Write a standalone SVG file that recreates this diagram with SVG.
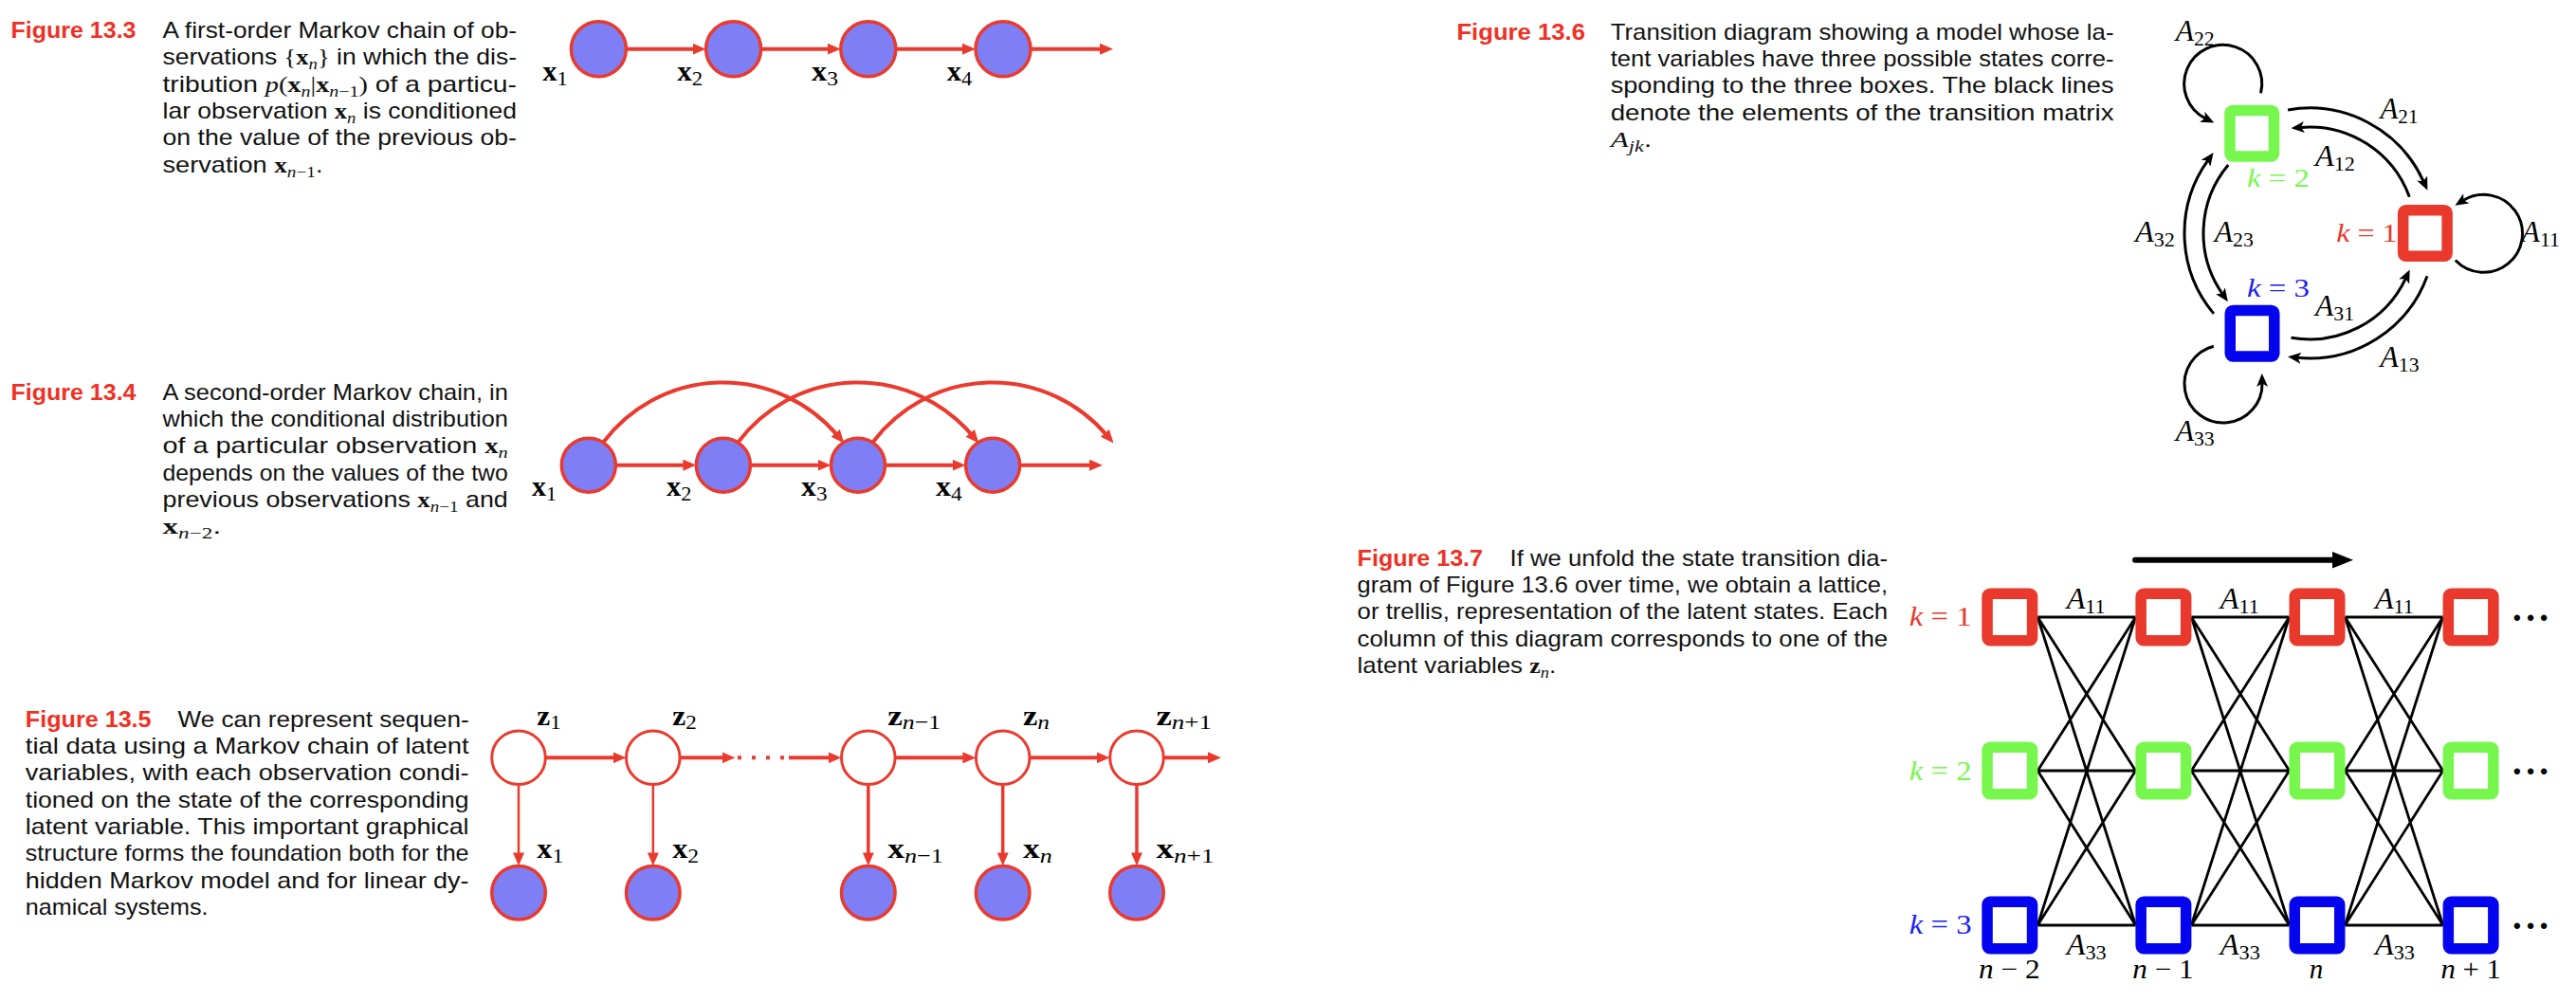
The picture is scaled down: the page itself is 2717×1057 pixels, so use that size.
<svg xmlns="http://www.w3.org/2000/svg" width="2717" height="1057" viewBox="0 0 2717 1057">
<defs>
<style>
.t{font-family:"Liberation Sans",Arial,sans-serif;font-size:24px;fill:#111}
.f{font-family:"Liberation Sans",Arial,sans-serif;font-size:24px;font-weight:bold;fill:#EE3124}
.mb{font-family:"Liberation Serif","Times New Roman",serif;font-weight:bold}
.mi{font-family:"Liberation Serif","Times New Roman",serif;font-style:italic}
.mr{font-family:"Liberation Serif","Times New Roman",serif}
.s{font-size:17px}
.nl{font-family:"Liberation Serif","Times New Roman",serif;font-size:30px;fill:#000}
.al{font-family:"Liberation Serif","Times New Roman",serif;font-size:32px;fill:#000}
.ns{font-size:22px;font-weight:normal}
.obs{fill:#7F7FF5;stroke:#EA3A2E;stroke-width:3.5}
.lat{fill:#fff;stroke:#EA3A2E;stroke-width:3}
.re{fill:none;stroke:#EA3A2E;stroke-width:4;marker-end:url(#ra)}
.rt{fill:none;stroke:#EA3A2E;stroke-width:2.5;marker-end:url(#ra)}
.ke{fill:none;stroke:#000;stroke-width:3;marker-end:url(#ka)}
.tl{stroke:#000;stroke-width:2.8;fill:none}
.bx{fill:#fff;stroke-width:11.5}
.cg{stroke:#77F74D}.cr{stroke:#E8392C}.cb{stroke:#0404EE}
.dots{font-family:"Liberation Sans",Arial,sans-serif;font-size:22px;font-weight:bold;fill:#000}
</style>
<marker id="ra" viewBox="0 0 14 12" refX="2" refY="6" markerWidth="14" markerHeight="12" markerUnits="userSpaceOnUse" orient="auto"><path d="M0,0 L14,6 L0,12 Z" fill="#EA3A2E"/></marker>
<marker id="ka" viewBox="0 0 14 12" refX="4" refY="6" markerWidth="14" markerHeight="12" markerUnits="userSpaceOnUse" orient="auto"><path d="M0,0 L14,6 L0,12 L3.5,6 Z" fill="#000"/></marker>
</defs>
<rect width="2717" height="1057" fill="#fff"/>

<!-- ===== Captions ===== -->
<g id="cap13_3">
<text class="f" x="11.5" y="40" textLength="132" lengthAdjust="spacingAndGlyphs">Figure 13.3</text>
<text class="t" x="171.5" y="40" textLength="373.5" lengthAdjust="spacingAndGlyphs">A first-order Markov chain of ob-</text>
<text class="t" x="171.5" y="68.3" textLength="373.5" lengthAdjust="spacingAndGlyphs">servations <tspan class="mr">{</tspan><tspan class="mb">x</tspan><tspan class="mi s" dy="5">n</tspan><tspan class="mr" dy="-5">}</tspan> in which the dis-</text>
<text class="t" x="171.5" y="96.7" textLength="373.5" lengthAdjust="spacingAndGlyphs">tribution <tspan class="mi">p</tspan><tspan class="mr">(</tspan><tspan class="mb">x</tspan><tspan class="mi s" dy="5">n</tspan><tspan class="mr" dy="-5">|</tspan><tspan class="mb">x</tspan><tspan class="mi s" dy="5">n</tspan><tspan class="mr s">−1</tspan><tspan class="mr" dy="-5">)</tspan> of a particu-</text>
<text class="t" x="171.5" y="125" textLength="373.5" lengthAdjust="spacingAndGlyphs">lar observation <tspan class="mb">x</tspan><tspan class="mi s" dy="5">n</tspan><tspan dy="-5"> is conditioned</tspan></text>
<text class="t" x="171.5" y="153.3" textLength="373.5" lengthAdjust="spacingAndGlyphs">on the value of the previous ob-</text>
<text class="t" x="171.5" y="181.7" textLength="169" lengthAdjust="spacingAndGlyphs">servation <tspan class="mb">x</tspan><tspan class="mi s" dy="5">n</tspan><tspan class="mr s">−1</tspan><tspan dy="-5">.</tspan></text>
</g>

<g id="cap13_4">
<text class="f" x="11.5" y="421.7" textLength="132" lengthAdjust="spacingAndGlyphs">Figure 13.4</text>
<text class="t" x="171.5" y="421.7" textLength="364.3" lengthAdjust="spacingAndGlyphs">A second-order Markov chain, in</text>
<text class="t" x="171.5" y="450" textLength="364.3" lengthAdjust="spacingAndGlyphs">which the conditional distribution</text>
<text class="t" x="171.5" y="478.3" textLength="364.3" lengthAdjust="spacingAndGlyphs">of a particular observation <tspan class="mb">x</tspan><tspan class="mi s" dy="5">n</tspan></text>
<text class="t" x="171.5" y="506.7" textLength="364.3" lengthAdjust="spacingAndGlyphs">depends on the values of the two</text>
<text class="t" x="171.5" y="535" textLength="364.3" lengthAdjust="spacingAndGlyphs">previous observations <tspan class="mb">x</tspan><tspan class="mi s" dy="5">n</tspan><tspan class="mr s">−1</tspan><tspan dy="-5"> and</tspan></text>
<text class="t" x="171.5" y="563.3" textLength="62" lengthAdjust="spacingAndGlyphs"><tspan class="mb">x</tspan><tspan class="mi s" dy="5">n</tspan><tspan class="mr s">−2</tspan><tspan dy="-5">.</tspan></text>
</g>

<g id="cap13_5">
<text class="f" x="26.8" y="766.7" textLength="132.8" lengthAdjust="spacingAndGlyphs">Figure 13.5</text>
<text class="t" x="187.5" y="766.7" textLength="307.1" lengthAdjust="spacingAndGlyphs">We can represent sequen-</text>
<text class="t" x="26.8" y="795" textLength="467.8" lengthAdjust="spacingAndGlyphs">tial data using a Markov chain of latent</text>
<text class="t" x="26.8" y="823.3" textLength="467.8" lengthAdjust="spacingAndGlyphs">variables, with each observation condi-</text>
<text class="t" x="26.8" y="851.7" textLength="467.8" lengthAdjust="spacingAndGlyphs">tioned on the state of the corresponding</text>
<text class="t" x="26.8" y="880" textLength="467.8" lengthAdjust="spacingAndGlyphs">latent variable.  This important graphical</text>
<text class="t" x="26.8" y="908.3" textLength="467.8" lengthAdjust="spacingAndGlyphs">structure forms the foundation both for the</text>
<text class="t" x="26.8" y="936.7" textLength="467.8" lengthAdjust="spacingAndGlyphs">hidden Markov model and for linear dy-</text>
<text class="t" x="26.8" y="965" textLength="192.8" lengthAdjust="spacingAndGlyphs">namical systems.</text>
</g>

<g id="cap13_6">
<text class="f" x="1536.4" y="41.7" textLength="135.6" lengthAdjust="spacingAndGlyphs">Figure 13.6</text>
<text class="t" x="1698.7" y="41.7" textLength="530.8" lengthAdjust="spacingAndGlyphs">Transition diagram showing a model whose la-</text>
<text class="t" x="1698.7" y="70" textLength="530.8" lengthAdjust="spacingAndGlyphs">tent variables have three possible states corre-</text>
<text class="t" x="1698.7" y="98.3" textLength="530.8" lengthAdjust="spacingAndGlyphs">sponding to the three boxes.  The black lines</text>
<text class="t" x="1698.7" y="126.7" textLength="530.8" lengthAdjust="spacingAndGlyphs">denote the elements of the transition matrix</text>
<text class="t" x="1698.7" y="155" textLength="43.7" lengthAdjust="spacingAndGlyphs"><tspan class="mi">A</tspan><tspan class="mi s" dy="5">jk</tspan><tspan dy="-5">.</tspan></text>
</g>

<g id="cap13_7">
<text class="f" x="1431.6" y="596.7" textLength="132.4" lengthAdjust="spacingAndGlyphs">Figure 13.7</text>
<text class="t" x="1592.6" y="596.7" textLength="398.5" lengthAdjust="spacingAndGlyphs">If we unfold the state transition dia-</text>
<text class="t" x="1431.6" y="625" textLength="559.5" lengthAdjust="spacingAndGlyphs">gram of Figure 13.6 over time, we obtain a lattice,</text>
<text class="t" x="1431.6" y="653.3" textLength="559.5" lengthAdjust="spacingAndGlyphs">or trellis, representation of the latent states. Each</text>
<text class="t" x="1431.6" y="681.7" textLength="559.5" lengthAdjust="spacingAndGlyphs">column of this diagram corresponds to one of the</text>
<text class="t" x="1431.6" y="710" textLength="209.6" lengthAdjust="spacingAndGlyphs">latent variables <tspan class="mb">z</tspan><tspan class="mi s" dy="5">n</tspan><tspan dy="-5">.</tspan></text>
</g>

<!-- ===== Connectors ===== -->
<g id="connectors">
<path class="re" d="M660.4,51.7 H732.6"/>
<path class="re" d="M802.6,51.7 H874.8"/>
<path class="re" d="M944.8,51.7 H1017"/>
<path class="re" d="M1087,51.7 H1162"/>
<path class="re" d="M649.3,490.7 H722.4"/>
<path class="re" d="M791.4,490.7 H864.5"/>
<path class="re" d="M933.5,490.7 H1006.6"/>
<path class="re" d="M1075.6,490.7 H1150.9"/>
<path class="re" d="M636.8,466 A158,158 0 0 1 882.5,458.4"/>
<path class="re" d="M778.9,466 A158,158 0 0 1 1024.6,458.4"/>
<path class="re" d="M921,466 A158,158 0 0 1 1166.7,458.4"/>
<path class="re" d="M575.3,799.3 H648.5"/>
<path class="re" d="M717.1,799.3 H763.5"/>
<path d="M778,799.3 H828" stroke="#EA3A2E" stroke-width="4" stroke-dasharray="4 11" fill="none"/>
<path class="re" d="M832,799.3 H875.5"/>
<path class="re" d="M944.1,799.3 H1017.4"/>
<path class="re" d="M1086,799.3 H1158.7"/>
<path class="re" d="M1227.3,799.3 H1276"/>
<path class="rt" d="M547,827.6 V901.4"/>
<path class="rt" d="M688.8,827.6 V901.4"/>
<path class="re" d="M915.8,827.6 V901.4" style="stroke-width:3.5"/>
<path class="re" d="M1057.7,827.6 V901.4" style="stroke-width:3.5"/>
<path class="re" d="M1199,827.6 V901.4" style="stroke-width:3.5"/>
<path class="ke" d="M2413.08,116 A132,132 0 0 1 2556.27,191.59"/>
<path class="ke" d="M2560.04,291.15 A132,132 0 0 1 2422.98,377.36"/>
<path class="ke" d="M2334.88,330.85 A132,132 0 0 1 2328.78,169"/>
<path class="ke" d="M2541.25,207.69 A112,112 0 0 0 2426.47,134.41"/>
<path class="ke" d="M2416.55,356.3 A112,112 0 0 0 2537.41,293.55"/>
<path class="ke" d="M2350.2,174.01 A112,112 0 0 0 2344.12,310.05"/>
<path class="ke" d="M2384.5,98.25 A41,41 0 1 0 2326.34,125.06"/>
<path class="ke" d="M2589.76,274.52 A41,41 0 1 0 2597.95,211.42"/>
<path class="ke" d="M2334.87,365.27 A41,41 0 1 0 2385.99,403.93"/>
<path class="tl" d="M2149.2,651 L2252.5,651 M2149.2,651 L2252.5,813 M2149.2,651 L2252.5,976 M2149.2,813 L2252.5,651 M2149.2,813 L2252.5,813 M2149.2,813 L2252.5,976 M2149.2,976 L2252.5,651 M2149.2,976 L2252.5,813 M2149.2,976 L2252.5,976"/>
<path class="tl" d="M2311.3,651 L2414.6,651 M2311.3,651 L2414.6,813 M2311.3,651 L2414.6,976 M2311.3,813 L2414.6,651 M2311.3,813 L2414.6,813 M2311.3,813 L2414.6,976 M2311.3,976 L2414.6,651 M2311.3,976 L2414.6,813 M2311.3,976 L2414.6,976"/>
<path class="tl" d="M2473.4,651 L2576.7,651 M2473.4,651 L2576.7,813 M2473.4,651 L2576.7,976 M2473.4,813 L2576.7,651 M2473.4,813 L2576.7,813 M2473.4,813 L2576.7,976 M2473.4,976 L2576.7,651 M2473.4,976 L2576.7,813 M2473.4,976 L2576.7,976"/>
<path d="M2252,590.7 H2463" stroke="#000" stroke-width="6" stroke-linecap="round" fill="none"/>
<polygon points="2460,582 2482,590.7 2460,599.4" fill="#000"/>
</g>

<!-- ===== Figure 13.3 nodes ===== -->
<g id="f3_x1"><circle class="obs" cx="631.4" cy="51.7" r="29"/><text class="nl" x="572.2" y="85" textLength="26.5" lengthAdjust="spacingAndGlyphs"><tspan class="mb">x</tspan><tspan class="ns" dy="5">1</tspan></text></g>
<g id="f3_x2"><circle class="obs" cx="773.6" cy="51.7" r="29"/><text class="nl" x="714.3" y="85" textLength="27" lengthAdjust="spacingAndGlyphs"><tspan class="mb">x</tspan><tspan class="ns" dy="5">2</tspan></text></g>
<g id="f3_x3"><circle class="obs" cx="915.8" cy="51.7" r="29"/><text class="nl" x="856" y="85" textLength="28" lengthAdjust="spacingAndGlyphs"><tspan class="mb">x</tspan><tspan class="ns" dy="5">3</tspan></text></g>
<g id="f3_x4"><circle class="obs" cx="1058" cy="51.7" r="29"/><text class="nl" x="998.8" y="85" textLength="26.5" lengthAdjust="spacingAndGlyphs"><tspan class="mb">x</tspan><tspan class="ns" dy="5">4</tspan></text></g>

<!-- ===== Figure 13.4 nodes ===== -->
<g id="f4_x1"><circle class="obs" cx="620.8" cy="490.7" r="28.5"/><text class="nl" x="561" y="523.3" textLength="26" lengthAdjust="spacingAndGlyphs"><tspan class="mb">x</tspan><tspan class="ns" dy="5">1</tspan></text></g>
<g id="f4_x2"><circle class="obs" cx="762.9" cy="490.7" r="28.5"/><text class="nl" x="702.9" y="523.3" textLength="26.5" lengthAdjust="spacingAndGlyphs"><tspan class="mb">x</tspan><tspan class="ns" dy="5">2</tspan></text></g>
<g id="f4_x3"><circle class="obs" cx="905" cy="490.7" r="28.5"/><text class="nl" x="845.1" y="523.3" textLength="27.4" lengthAdjust="spacingAndGlyphs"><tspan class="mb">x</tspan><tspan class="ns" dy="5">3</tspan></text></g>
<g id="f4_x4"><circle class="obs" cx="1047.1" cy="490.7" r="28.5"/><text class="nl" x="987" y="523.3" textLength="27.8" lengthAdjust="spacingAndGlyphs"><tspan class="mb">x</tspan><tspan class="ns" dy="5">4</tspan></text></g>

<!-- ===== Figure 13.5 nodes ===== -->
<g id="f5_z1"><circle class="lat" cx="547" cy="799.3" r="28.3"/><text class="nl" x="566.3" y="765" textLength="25.5" lengthAdjust="spacingAndGlyphs"><tspan class="mb">z</tspan><tspan class="ns" dy="4">1</tspan></text></g>
<g id="f5_z2"><circle class="lat" cx="688.8" cy="799.3" r="28.3"/><text class="nl" x="709.2" y="765" textLength="25.5" lengthAdjust="spacingAndGlyphs"><tspan class="mb">z</tspan><tspan class="ns" dy="4">2</tspan></text></g>
<g id="f5_zn1"><circle class="lat" cx="915.8" cy="799.3" r="28.3"/><text class="nl" x="936.2" y="765" textLength="56" lengthAdjust="spacingAndGlyphs"><tspan class="mb">z</tspan><tspan class="ns" dy="4"><tspan class="mi">n</tspan>−1</tspan></text></g>
<g id="f5_zn"><circle class="lat" cx="1057.7" cy="799.3" r="28.3"/><text class="nl" x="1079" y="765" textLength="28" lengthAdjust="spacingAndGlyphs"><tspan class="mb">z</tspan><tspan class="ns mi" dy="4">n</tspan></text></g>
<g id="f5_zn+1"><circle class="lat" cx="1199" cy="799.3" r="28.3"/><text class="nl" x="1219.4" y="765" textLength="58.7" lengthAdjust="spacingAndGlyphs"><tspan class="mb">z</tspan><tspan class="ns" dy="4"><tspan class="mi">n</tspan>+1</tspan></text></g>
<g id="f5_x1"><circle class="obs" cx="547" cy="941.7" r="28.3"/><text class="nl" x="566.3" y="905" textLength="28" lengthAdjust="spacingAndGlyphs"><tspan class="mb">x</tspan><tspan class="ns" dy="5">1</tspan></text></g>
<g id="f5_x2"><circle class="obs" cx="688.8" cy="941.7" r="28.3"/><text class="nl" x="709.2" y="905" textLength="28" lengthAdjust="spacingAndGlyphs"><tspan class="mb">x</tspan><tspan class="ns" dy="5">2</tspan></text></g>
<g id="f5_xn1"><circle class="obs" cx="915.8" cy="941.7" r="28.3"/><text class="nl" x="936.2" y="905" textLength="58.7" lengthAdjust="spacingAndGlyphs"><tspan class="mb">x</tspan><tspan class="ns" dy="5"><tspan class="mi">n</tspan>−1</tspan></text></g>
<g id="f5_xn"><circle class="obs" cx="1057.7" cy="941.7" r="28.3"/><text class="nl" x="1079" y="905" textLength="30.7" lengthAdjust="spacingAndGlyphs"><tspan class="mb">x</tspan><tspan class="ns mi" dy="5">n</tspan></text></g>
<g id="f5_xn+1"><circle class="obs" cx="1199" cy="941.7" r="28.3"/><text class="nl" x="1219.4" y="905" textLength="61.2" lengthAdjust="spacingAndGlyphs"><tspan class="mb">x</tspan><tspan class="ns" dy="5"><tspan class="mi">n</tspan>+1</tspan></text></g>

<!-- ===== Figure 13.6 ===== -->
<g id="f6_labels">
<text class="al" x="2294.7" y="43.3" textLength="41" lengthAdjust="spacingAndGlyphs"><tspan class="mi">A</tspan><tspan class="ns" dy="5">22</tspan></text>
<text class="al" x="2510.5" y="125" textLength="40" lengthAdjust="spacingAndGlyphs"><tspan class="mi">A</tspan><tspan class="ns" dy="5">21</tspan></text>
<text class="al" x="2442" y="175" textLength="42" lengthAdjust="spacingAndGlyphs"><tspan class="mi">A</tspan><tspan class="ns" dy="5">12</tspan></text>
<text class="al" x="2251.9" y="255" textLength="42" lengthAdjust="spacingAndGlyphs"><tspan class="mi">A</tspan><tspan class="ns" dy="5">32</tspan></text>
<text class="al" x="2335.8" y="255" textLength="41" lengthAdjust="spacingAndGlyphs"><tspan class="mi">A</tspan><tspan class="ns" dy="5">23</tspan></text>
<text class="al" x="2659.5" y="255" textLength="40.4" lengthAdjust="spacingAndGlyphs"><tspan class="mi">A</tspan><tspan class="ns" dy="5">11</tspan></text>
<text class="al" x="2442" y="333.3" textLength="41" lengthAdjust="spacingAndGlyphs"><tspan class="mi">A</tspan><tspan class="ns" dy="5">31</tspan></text>
<text class="al" x="2510.5" y="386.7" textLength="41" lengthAdjust="spacingAndGlyphs"><tspan class="mi">A</tspan><tspan class="ns" dy="5">13</tspan></text>
<text class="al" x="2294.7" y="465" textLength="41" lengthAdjust="spacingAndGlyphs"><tspan class="mi">A</tspan><tspan class="ns" dy="5">33</tspan></text>
</g>
<g id="f6_k1"><text class="nl" x="2464.2" y="255" textLength="64.4" lengthAdjust="spacingAndGlyphs" style="fill:#E8392C;font-size:28px"><tspan class="mi">k</tspan> = 1</text><rect class="bx cr" x="2534.65" y="221.75" width="46.5" height="48.5" rx="3"/></g>
<g id="f6_k2"><rect class="bx cg" x="2351.95" y="116.55" width="46.5" height="48.5" rx="3"/><text class="nl" x="2370" y="197.3" textLength="66" lengthAdjust="spacingAndGlyphs" style="fill:#77F74D;font-size:28px"><tspan class="mi">k</tspan> = 2</text></g>
<g id="f6_k3"><rect class="bx cb" x="2352.25" y="327.45" width="46.5" height="48.5" rx="3"/><text class="nl" x="2370" y="313.3" textLength="66" lengthAdjust="spacingAndGlyphs" style="fill:#2020F0;font-size:28px"><tspan class="mi">k</tspan> = 3</text></g>

<!-- ===== Figure 13.7 trellis ===== -->
<g id="f7_rowlabels">
<text class="nl" x="2013.8" y="660" textLength="65.8" lengthAdjust="spacingAndGlyphs" style="fill:#E8392C;font-size:29px"><tspan class="mi">k</tspan> = 1</text>
<text class="nl" x="2013.8" y="822.7" textLength="65.8" lengthAdjust="spacingAndGlyphs" style="fill:#77F74D;font-size:29px"><tspan class="mi">k</tspan> = 2</text>
<text class="nl" x="2013.8" y="985" textLength="65.8" lengthAdjust="spacingAndGlyphs" style="fill:#2020F0;font-size:29px"><tspan class="mi">k</tspan> = 3</text>
</g>
<g id="f7_edgelabels">
<text class="al" x="2179.7" y="641.7" textLength="41" lengthAdjust="spacingAndGlyphs"><tspan class="mi">A</tspan><tspan class="ns" dy="5">11</tspan></text>
<text class="al" x="2341.8" y="641.7" textLength="41" lengthAdjust="spacingAndGlyphs"><tspan class="mi">A</tspan><tspan class="ns" dy="5">11</tspan></text>
<text class="al" x="2504.9" y="641.7" textLength="41" lengthAdjust="spacingAndGlyphs"><tspan class="mi">A</tspan><tspan class="ns" dy="5">11</tspan></text>
<text class="al" x="2179.7" y="1006.7" textLength="42" lengthAdjust="spacingAndGlyphs"><tspan class="mi">A</tspan><tspan class="ns" dy="5">33</tspan></text>
<text class="al" x="2341.8" y="1006.7" textLength="42" lengthAdjust="spacingAndGlyphs"><tspan class="mi">A</tspan><tspan class="ns" dy="5">33</tspan></text>
<text class="al" x="2504.9" y="1006.7" textLength="42" lengthAdjust="spacingAndGlyphs"><tspan class="mi">A</tspan><tspan class="ns" dy="5">33</tspan></text>
</g>
<g id="f7_collabels">
<text class="nl" x="2087.1" y="1031.7" textLength="64.4" lengthAdjust="spacingAndGlyphs" style="font-size:29px"><tspan class="mi">n</tspan> − 2</text>
<text class="nl" x="2249.3" y="1031.7" textLength="64.3" lengthAdjust="spacingAndGlyphs" style="font-size:29px"><tspan class="mi">n</tspan> − 1</text>
<text class="nl mi" x="2435.8" y="1031.7" style="font-size:29px">n</text>
<text class="nl" x="2574.5" y="1031.7" textLength="63.4" lengthAdjust="spacingAndGlyphs" style="font-size:29px"><tspan class="mi">n</tspan> + 1</text>
</g>
<g id="t_c1r1"><rect class="bx cr" x="2096.05" y="626.25" width="47.5" height="49.5" rx="3"/></g>
<g id="t_c2r1"><rect class="bx cr" x="2258.15" y="626.25" width="47.5" height="49.5" rx="3"/></g>
<g id="t_c3r1"><rect class="bx cr" x="2420.25" y="626.25" width="47.5" height="49.5" rx="3"/></g>
<g id="t_c4r1"><rect class="bx cr" x="2582.35" y="626.25" width="47.5" height="49.5" rx="3"/></g>
<g id="t_c1r2"><rect class="bx cg" x="2096.05" y="788.25" width="47.5" height="49.5" rx="3"/></g>
<g id="t_c2r2"><rect class="bx cg" x="2258.15" y="788.25" width="47.5" height="49.5" rx="3"/></g>
<g id="t_c3r2"><rect class="bx cg" x="2420.25" y="788.25" width="47.5" height="49.5" rx="3"/></g>
<g id="t_c4r2"><rect class="bx cg" x="2582.35" y="788.25" width="47.5" height="49.5" rx="3"/></g>
<g id="t_c1r3"><rect class="bx cb" x="2096.05" y="951.25" width="47.5" height="49.5" rx="3"/></g>
<g id="t_c2r3"><rect class="bx cb" x="2258.15" y="951.25" width="47.5" height="49.5" rx="3"/></g>
<g id="t_c3r3"><rect class="bx cb" x="2420.25" y="951.25" width="47.5" height="49.5" rx="3"/></g>
<g id="t_c4r3"><rect class="bx cb" x="2582.35" y="951.25" width="47.5" height="49.5" rx="3"/></g>
<g id="f7_dots">
<text class="dots" x="2651" y="659" textLength="36" lengthAdjust="spacing">•••</text>
<text class="dots" x="2651" y="821" textLength="36" lengthAdjust="spacing">•••</text>
<text class="dots" x="2651" y="984" textLength="36" lengthAdjust="spacing">•••</text>
</g>
</svg>
